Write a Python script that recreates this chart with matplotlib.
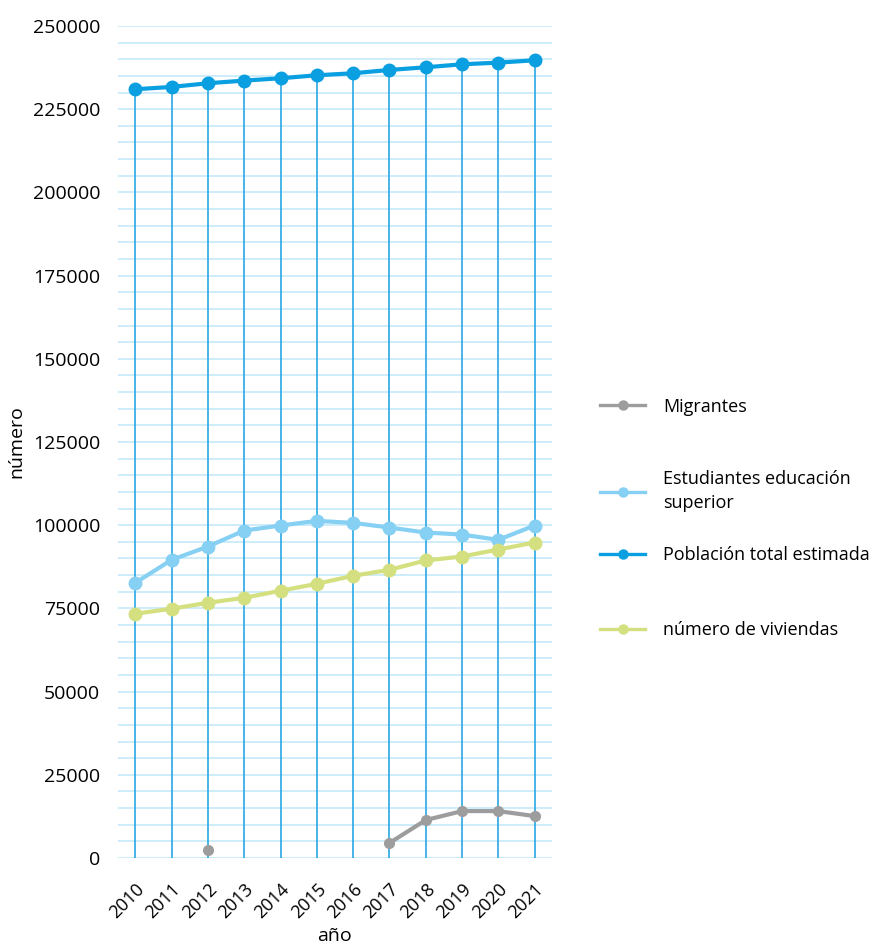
import matplotlib.pyplot as plt
import numpy as np

# data
years = [2010, 2011, 2012, 2013, 2014, 2015, 2016, 2017, 2018, 2019, 2020, 2021]
poblacion = [231000, 231700, 232800, 233600, 234300, 235200, 235800, 236800, 237600, 238500, 239000, 239700]
estudiantes = [82700, 89600, 93600, 98400, 99900, 101300, 100700, 99300, 97800, 97200, 95600, 99900]
viviendas = [73400, 74900, 76700, 78200, 80300, 82400, 84800, 86600, 89400, 90600, 92700, 94800]
migrantes = [np.nan, np.nan, 2400, np.nan, np.nan, np.nan, np.nan, 4500, 11400, 14100, 14100, 12600]

plt.rcParams['font.family'] = ['Open Sans', 'DejaVu Sans']

fig = plt.figure(figsize=(8.7, 9.46), dpi=100)
ax = fig.add_axes([0.136, 0.093, 0.498, 0.8795])

x = np.arange(len(years))

# drop lines from the population series
ax.vlines(x, 0, poblacion, color='#2aa8e4', lw=1.2, zorder=1)

l_mig, = ax.plot(x, migrantes, color='#9d9d9d', lw=3, marker='o', ms=7, zorder=3)
l_est, = ax.plot(x, estudiantes, color='#86d0f3', lw=3, marker='o', ms=9, zorder=3)
l_pob, = ax.plot(x, poblacion, color='#0a9fe0', lw=3, marker='o', ms=9, zorder=4)
l_viv, = ax.plot(x, viviendas, color='#d4e080', lw=3, marker='o', ms=9, zorder=3)

ax.set_xlim(-0.47, 11.47)
ax.set_ylim(0, 250000)
ax.set_yticks(np.arange(0, 250001, 25000))
ax.set_yticks(np.arange(0, 250001, 5000), minor=True)
ax.grid(axis='y', which='both', color='#c6e9f9', lw=1.2, zorder=0)
ax.set_axisbelow(True)

ax.set_xticks(x)
ax.set_xticklabels([str(y) for y in years], rotation=45, ha='right',
                   rotation_mode='anchor', fontsize=13)
ax.tick_params(axis='y', which='both', length=0, pad=13, labelsize=14)
ax.tick_params(axis='x', length=0, pad=16)
for s in ax.spines.values():
    s.set_visible(False)

ax.set_xlabel('año', fontsize=14)
ax.xaxis.set_label_coords(0.5, -0.083)
ax.set_ylabel('número', fontsize=14)
ax.yaxis.set_label_coords(-0.215, 0.5)

# one legend per entry, to keep the uneven vertical spacing
entries = [(l_mig, 'Migrantes', 0.570),
           (l_est, 'Estudiantes educación\nsuperior', 0.481),
           (l_pob, 'Población total estimada', 0.413),
           (l_viv, 'número de viviendas', 0.334)]
for h, lab, yy in entries:
    leg = fig.legend([h], [lab], loc='center left', bbox_to_anchor=(0.69, yy),
                     frameon=False, fontsize=13, handlelength=2.5, handletextpad=1.0,
                     borderpad=0, borderaxespad=0)
    for t in leg.get_texts():
        t.set_linespacing(1.45)
    for lh in leg.legend_handles:
        lh.set_linewidth(2.4)
        lh.set_markersize(6.5)

fig.savefig('out.png', dpi=100)
